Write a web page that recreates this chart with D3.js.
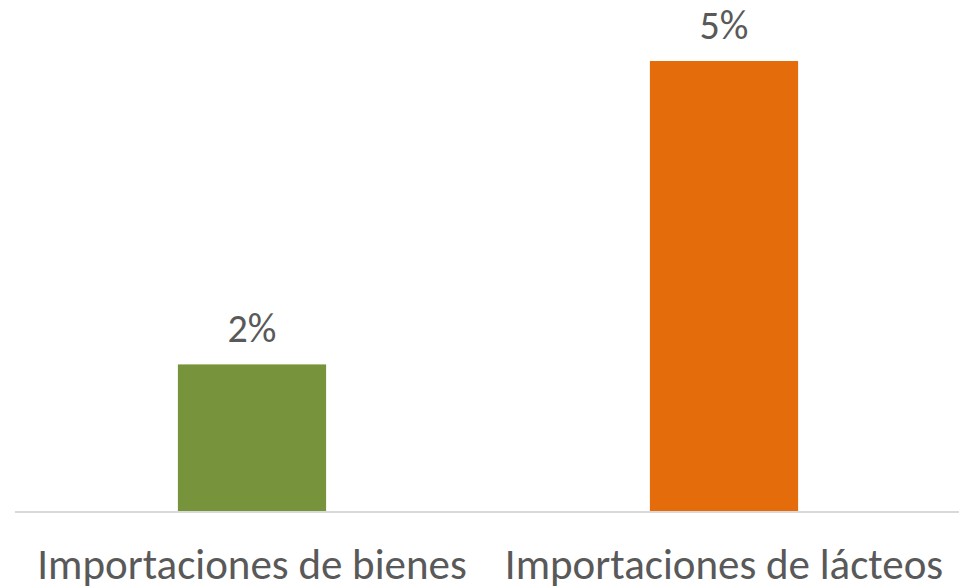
<!DOCTYPE html>
<html>
<head>
<meta charset="utf-8">
<script src="https://cdn.jsdelivr.net/npm/d3@7"></script>
<style>
  html, body { margin: 0; padding: 0; background: #fff; }
  svg text { font-family: Carlito, "Liberation Sans Narrow", "Open Sans", sans-serif; fill: #595959; }
</style>
</head>
<body>
<svg id="chart" width="959" height="587"></svg>
<script>
// data
var categories = ["Importaciones de bienes", "Importaciones de lácteos"];
var values = [1.6, 4.9];   // percent
var colors = ["#77933C", "#E46C0A"];

var width = 959,
    height = 587,
    baseY = 511.5,
    topY = 61;

var svg = d3.select("#chart");

var x = d3.scaleBand()
    .domain(categories)
    .range([16, 960])
    .paddingInner(0.686)
    .paddingOuter(0.343);

var y = d3.scaleLinear()
    .domain([0, d3.max(values)])
    .range([baseY, topY]);

var fmt = function(v) { return d3.format(".0f")(v) + "%"; };

// bars
svg.selectAll("rect.bar")
    .data(values)
    .enter()
    .append("rect")
    .attr("class", "bar")
    .attr("x", function(d, i) { return x(categories[i]); })
    .attr("y", function(d) { return y(d); })
    .attr("width", x.bandwidth())
    .attr("height", function(d) { return y(0) - y(d); })
    .style("fill", function(d, i) { return colors[i]; });

// baseline
svg.append("line")
    .attr("x1", 15)
    .attr("x2", width)
    .attr("y1", y(0) + 0.5)
    .attr("y2", y(0) + 0.5)
    .style("stroke", "#d9d9d9")
    .style("stroke-width", 2);

// value labels
svg.selectAll("text.value")
    .data(values)
    .enter()
    .append("text")
    .attr("class", "value")
    .attr("x", function(d, i) { return x(categories[i]) + x.bandwidth() / 2; })
    .attr("y", function(d) { return y(d) - 22; })
    .attr("text-anchor", "middle")
    .style("font-size", "40px")
    .text(fmt);

// category labels
svg.selectAll("text.cat")
    .data(categories)
    .enter()
    .append("text")
    .attr("class", "cat")
    .attr("x", function(d) { return x(d) + x.bandwidth() / 2; })
    .attr("y", 579)
    .attr("text-anchor", "middle")
    .style("font-size", "43px")
    .text(function(d) { return d; });
</script>
</body>
</html>
